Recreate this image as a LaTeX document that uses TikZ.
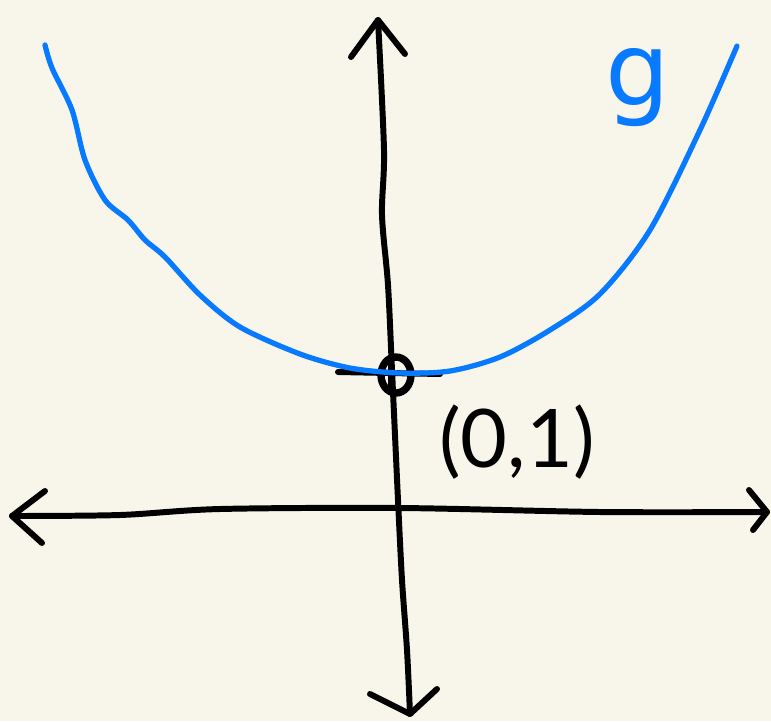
\documentclass[tikz,border=0pt]{standalone}
\usepackage{fontspec}
\setmainfont{Lato}
\newfontfamily\gfont{DejaVu Sans}
\usetikzlibrary{calc}
\definecolor{paper}{RGB}{248,246,235}
\definecolor{pen}{RGB}{8,122,255}

\begin{document}
\begin{tikzpicture}[
  x=0.02cm, y=-0.02cm,
  axis/.style={line width=3.4pt, line cap=round, line join=round, black},
  curve/.style={line width=3pt, line cap=round, line join=round, pen},
  hand/.style={font=\fontsize{46}{46}\selectfont, inner sep=0pt}
]
  % paper
  \fill[paper] (0,0) rectangle (771,721);
  \useasboundingbox (0,0) rectangle (771,721);

  % points
  \coordinate (xl) at (12,516);
  \coordinate (xr) at (767,512);
  \coordinate (yt) at (378,20);
  \coordinate (yb) at (410,714);
  \coordinate (p) at (396,375);

  % horizontal axis
  \draw[axis] plot[smooth] coordinates {(xl) (120,515) (220,509) (400,508) (600,512) (xr)};
  \draw[axis] (45,491) -- (xl) -- (42,543);
  \draw[axis] (749,490) -- (xr) -- (753,530);

  % vertical axis
  \draw[axis] plot[smooth] coordinates {(yt) (384,150) (382,215) (388,285) (392,370) (398,500) (402,580) (407,650) (yb)};
  \draw[axis] (351,57) -- (yt) -- (405,54);
  \draw[axis] (370,694) -- (yb) -- (437,689);

  % the point (0,1)
  \draw[axis] (338,372) -- (440,374);
  \draw[line width=4.2pt] (p) ellipse (15 and 18);
  \draw[axis] (391,360) -- (391,392);

  % parabola g
  \draw[curve] plot[smooth, tension=0.5] coordinates {(45,45) (52,68) (72,110) (85,160) (105,200) (128,220) (145,240) (165,257) (200,295) (240,327) (300,354) (350,368) (400,373) (450,371) (500,357) (550,330) (600,294) (650,230) (700,130) (737,46)};

  % labels
  \node[hand, text=pen, font=\gfont\fontsize{58}{58}\selectfont] (g) at (638,88) {g};
  \node[hand] (pt) at (517,442) {(0,1)};
\end{tikzpicture}
\end{document}
